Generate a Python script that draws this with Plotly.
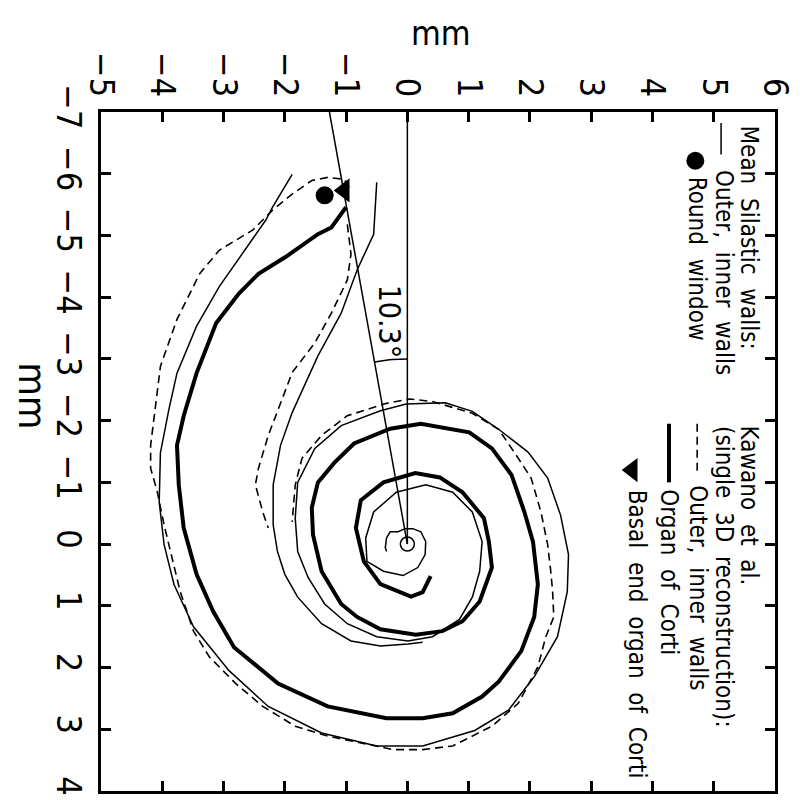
import numpy as np
import plotly.graph_objects as go

# Spiral traces (mm). x = horizontal axis (top labels), y = vertical axis (left labels, downward)
# Mean Silastic walls: outer wall (continues into apex) and inner wall
silastic_outer_x = [-1.88, -2.20, -2.31, -2.69, -3.07, -3.44, -3.76, -3.89, -4.03, -4.05, -3.97, -3.81,
                    -3.49, -2.91, -2.27, -1.40, -0.50, 0.25, 1.10, 1.65, 2.07, 2.45, 2.61, 2.63, 2.50,
                    2.29, 1.97, 1.49, 1.06, 0.62, -0.02, -0.44, -1.08, -1.51, -1.79, -1.83, -1.79, -1.62,
                    -1.35, -0.98, -0.50, 0.01, 0.41, 0.85, 1.06, 1.18, 1.22, 1.06, 0.74, 0.30, -0.18,
                    -0.55, -0.68, -0.66, -0.39, -0.07, 0.17, 0.29, 0.30, 0.22, 0.09, -0.04, -0.15, -0.28,
                    -0.34, -0.36, -0.34]
silastic_outer_y = [-5.99, -5.46, -5.25, -4.70, -4.17, -3.53, -2.77, -2.19, -1.48, -0.68, 0.01, 0.65,
                    1.34, 2.05, 2.63, 3.06, 3.27, 3.27, 3.02, 2.69, 2.15, 1.50, 0.77, 0.17, -0.47,
                    -1.07, -1.49, -1.86, -2.15, -2.29, -2.27, -2.16, -1.92, -1.55, -1.00, -0.42, 0.12, 0.54,
                    0.97, 1.29, 1.50, 1.57, 1.50, 1.22, 0.86, 0.44, -0.04, -0.52, -0.84, -0.96, -0.84,
                    -0.52, -0.10, 0.28, 0.44, 0.51, 0.38, 0.17, -0.04, -0.20, -0.25, -0.25, -0.20, -0.20,
                    -0.10, 0.06, 0.12]
silastic_inner_x = [-0.50, -0.55, -0.82, -1.08, -1.46, -1.72, -1.88, -2.07, -2.19, -2.19, -2.12, -2.00,
                    -1.79, -1.40, -0.92, -0.44, 0.01, 0.25]
silastic_inner_y = [-5.86, -5.02, -4.44, -3.74, -3.05, -2.48, -2.13, -1.60, -0.96, -0.31, 0.12, 0.49,
                    0.86, 1.29, 1.57, 1.65, 1.62, 1.59]

# Kawano et al. single 3D reconstruction
kawano_outer_x = [-0.95, -1.03, -1.30, -1.56, -1.88, -2.20, -2.52, -3.07, -3.39, -3.76, -4.03, -4.11,
                  -4.19, -4.19, -4.08, -3.97, -3.87, -3.71, -3.49, -3.23, -2.80, -2.36, -1.83, -1.30,
                  -0.76, -0.23, 0.25, 0.74, 1.38, 1.81, 2.13, 2.26, 2.39, 2.37, 2.34, 2.29, 2.18, 2.02,
                  1.81, 1.49, 1.06, 0.41, 0.04, -0.34, -0.98, -1.40, -1.72, -1.83, -1.88]
kawano_outer_y = [-5.78, -5.91, -5.94, -5.89, -5.67, -5.41, -5.09, -4.76, -4.38, -3.64, -2.88, -2.19,
                  -1.60, -1.23, -0.84, -0.31, 0.12, 0.76, 1.41, 1.83, 2.26, 2.63, 2.95, 3.11,
                  3.22, 3.33, 3.33, 3.27, 2.95, 2.58, 1.99, 1.50, 1.18, 0.76, 0.44, 0.01, -0.52, -1.07,
                  -1.39, -1.86, -2.12, -2.31, -2.35, -2.28, -2.08, -1.76, -1.39, -0.96, -0.36]
kawano_inner_x = [-0.98, -0.92, -0.98, -1.24, -1.51, -1.88, -2.04, -2.27, -2.43, -2.48, -2.36, -2.27]
kawano_inner_y = [-5.18, -4.70, -4.28, -3.74, -3.26, -2.78, -2.36, -1.76, -1.23, -0.96, -0.52, -0.26]
corti_x = [-1.00, -1.24, -1.46, -1.99, -2.43, -2.75, -3.12, -3.44, -3.65, -3.76, -3.73, -3.65, -3.44,
           -3.17, -2.83, -2.11, -1.30, -0.34, 0.25, 0.74, 1.22, 1.49, 1.86, 2.07, 2.13, 2.05, 1.91,
           1.70, 1.38, 1.01, 0.22, -0.28, -0.87, -1.19, -1.46, -1.56, -1.54, -1.40, -1.08, -0.82,
           -0.44, 0.14, 0.57, 0.90, 1.18, 1.38, 1.33, 1.25, 0.90, 0.53, 0.13, -0.39, -0.76, -0.84,
           -0.71, -0.44, 0.06, 0.25, 0.38]
corti_y = [-5.46, -5.13, -5.02, -4.65, -4.38, -4.06, -3.58, -2.77, -2.08, -1.60, -0.95, -0.26, 0.49,
           1.09, 1.67, 2.26, 2.63, 2.82, 2.82, 2.74, 2.47, 2.23, 1.73, 1.18, 0.65, -0.04, -0.52,
           -1.12, -1.55, -1.81, -1.95, -1.87, -1.63, -1.32, -1.00, -0.59, -0.15, 0.44, 0.97, 1.18,
           1.38, 1.47, 1.41, 1.25, 0.93, 0.38, -0.04, -0.42, -0.84, -1.08, -1.15, -1.00, -0.71, -0.26,
           0.28, 0.65, 0.85, 0.78, 0.52]

round_window = (-1.35, -5.65)
basal_end = (-1.03, -5.73)
modiolus = (0.0, 0.0)
angle_deg = 10.3
ray_len = 7.0
arc_radius = 3.0

FONT = "Liberation Sans Narrow, Arial Narrow, DejaVu Sans Condensed, Liberation Sans, Arial, sans-serif"
thin = dict(color="black", width=1.5)
dashed = dict(color="black", width=1.6, dash="8px,5px")

fig = go.Figure()

# reference rays from the modiolus and the angle arc
theta = np.radians(angle_deg)
fig.add_trace(go.Scatter(x=[0, 0], y=[0, -ray_len], mode="lines", line=thin))
fig.add_trace(go.Scatter(x=[0, -ray_len * np.tan(theta)], y=[0, -ray_len], mode="lines", line=thin))
t = np.linspace(0, theta, 12)
fig.add_trace(go.Scatter(x=-arc_radius * np.sin(t), y=-arc_radius * np.cos(t), mode="lines", line=thin))

fig.add_trace(go.Scatter(x=silastic_outer_x, y=silastic_outer_y, mode="lines", line=thin))
fig.add_trace(go.Scatter(x=silastic_inner_x, y=silastic_inner_y, mode="lines", line=thin))
fig.add_trace(go.Scatter(x=kawano_outer_x, y=kawano_outer_y, mode="lines", line=dashed))
fig.add_trace(go.Scatter(x=kawano_inner_x, y=kawano_inner_y, mode="lines", line=dashed))
fig.add_trace(go.Scatter(x=corti_x, y=corti_y, mode="lines", line=dict(color="black", width=4)))

fig.add_trace(go.Scatter(x=[modiolus[0]], y=[modiolus[1]], mode="markers",
                         marker=dict(symbol="circle-open", size=14, color="black", line=dict(width=1.5))))
fig.add_trace(go.Scatter(x=[round_window[0]], y=[round_window[1]], mode="markers",
                         marker=dict(symbol="circle", size=18, color="black")))
fig.add_trace(go.Scatter(x=[basal_end[0]], y=[basal_end[1]], mode="markers",
                         marker=dict(symbol="triangle-left", size=21, color="black")))

# legend glyphs (drawn by hand, rotated layout)
fig.add_trace(go.Scatter(x=[5.12, 5.12], y=[-6.82, -6.31], mode="lines", line=thin, cliponaxis=False))
fig.add_trace(go.Scatter(x=[4.70], y=[-6.21], mode="markers", marker=dict(size=18, color="black")))
fig.add_trace(go.Scatter(x=[4.73, 4.73], y=[-1.95, -1.12], mode="lines", line=dashed))
fig.add_trace(go.Scatter(x=[4.27, 4.27], y=[-1.95, -1.00], mode="lines", line=dict(color="black", width=4)))
fig.add_trace(go.Scatter(x=[3.67], y=[-1.20], mode="markers",
                         marker=dict(symbol="triangle-left", size=21, color="black")))

legend_text = [
    (5.57, -6.82, "Mean Silastic walls:"),
    (5.17, -6.10, "Outer, inner walls"),
    (4.72, -5.99, "Round window"),
    (5.58, -1.95, "Kawano et al."),
    (5.18, -1.95, "(single 3D reconstruction):"),
    (4.73, -0.99, "Outer, inner walls"),
    (4.27, -0.92, "Organ of Corti"),
    (3.75, -0.92, "Basal end organ of Corti"),
]
annotations = []
for x, y, s in legend_text:
    annotations.append(dict(x=x, y=y, xref="x", yref="y", text=s.replace(" ", "\u00a0\u00a0"),
                            textangle=90, showarrow=False, xanchor="center", yanchor="top",
                            font=dict(size=24, family=FONT, color="black")))
annotations.append(dict(x=-0.29, y=-3.61, xref="x", yref="y", text="10.3\u00b0", textangle=90,
                        showarrow=False, xanchor="center", yanchor="middle",
                        font=dict(size=30, family=FONT, color="black")))
annotations.append(dict(x=0.504, y=1.117, xref="paper", yref="paper", text="mm", showarrow=False,
                        xanchor="center", yanchor="middle",
                        font=dict(size=34, family=FONT, color="black")))
annotations.append(dict(x=-0.102, y=0.582, xref="paper", yref="paper", text="mm", textangle=90,
                        showarrow=False, xanchor="center", yanchor="middle",
                        font=dict(size=38, family=FONT, color="black")))

axis_common = dict(dtick=1, tick0=0, ticks="inside", ticklen=10, tickwidth=2.5, tickcolor="black",
                   showline=True, linewidth=3, linecolor="black", mirror="ticks", showgrid=False,
                   zeroline=False, tickangle=90, tickfont=dict(size=34, family=FONT, color="black"))

fig.update_layout(
    width=800, height=800,
    margin=dict(l=93, r=22, t=104, b=12),
    paper_bgcolor="white", plot_bgcolor="white",
    showlegend=False,
    xaxis=dict(range=[-5, 6], side="top", **axis_common),
    yaxis=dict(range=[4, -7], **axis_common),
    annotations=annotations,
)

fig.write_html("out.html")
